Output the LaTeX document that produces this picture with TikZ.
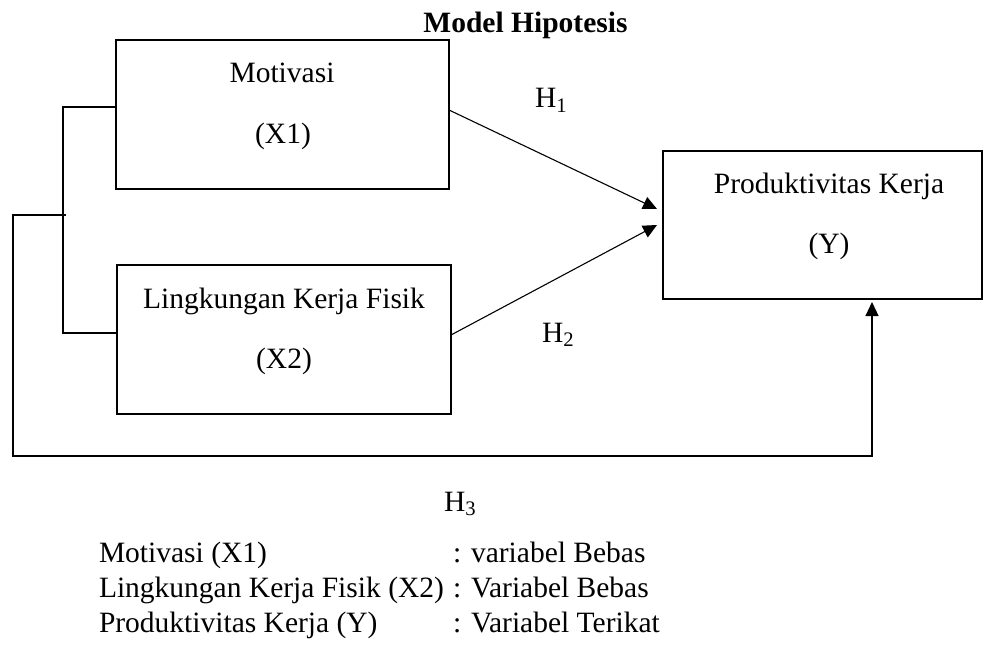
\documentclass[tikz,border=0pt]{standalone}
\usepackage{fontspec}
\setmainfont{Liberation Serif}
\usetikzlibrary{arrows.meta}
\begin{document}
\begin{tikzpicture}[x=0.5pt,y=-0.5pt,
  every node/.style={font=\fontsize{14.75}{17}\selectfont, inner sep=0pt, outer sep=0pt},
  boxnode/.style={draw, line width=1.2pt, inner sep=0pt, minimum height=74.5pt},
  txt/.style={anchor=base},
  lbl/.style={anchor=base west},
  conn/.style={line width=0.55pt},
  arr/.style={conn, -{Triangle[length=7pt,width=6.5pt]}}]
\useasboundingbox (0,0) rectangle (984,647);

% title
\node[txt, font=\fontsize{14.75}{17}\selectfont\bfseries] (title) at (525.5,33) {Model Hipotesis};

% boxes
\node[boxnode, minimum width=166.5pt] (x1) at (282.5,114.5) {};
\node[boxnode, minimum width=167pt] (x2) at (284,339.5) {};
\node[boxnode, minimum width=159.5pt, minimum height=74pt] (yb) at (822.5,225) {};

% box texts
\node[txt] (x1a) at (282,83) {Motivasi};
\node[txt] (x1b) at (283,143) {(X1)};
\node[txt] (x2a) at (284,308) {Lingkungan Kerja Fisik};
\node[txt] (x2b) at (284,368) {(X2)};
\node[txt] (ya) at (829,193) {Produktivitas Kerja};
\node[txt] (yy) at (829,253) {(Y)};

% hypothesis labels
\node[lbl] (h1) at (535,108) {H\textsubscript{1}};
\node[lbl] (h2) at (542,342) {H\textsubscript{2}};
\node[lbl] (h3) at (444,511) {H\textsubscript{3}};

% connectors
\draw[arr] ([yshift=2.25pt]x1.east) -- ([xshift=-3pt,yshift=8pt]yb.west);
\draw[arr] ([yshift=2.25pt]x2.east) -- ([xshift=-3pt]yb.west);

\draw[conn] ([yshift=3.75pt]x1.west) -- ++(-26.5pt,0) |- ([yshift=3.25pt]x2.west);
\coordinate (jn) at (66,215);
\coordinate (cl) at (13,215);
\coordinate (cb) at (13,456);
\draw[arr, shorten >=1.5pt] (jn) -- (cl) -- (cb) -| ([xshift=24.75pt]yb.south);

% legend
\node[lbl] (l1) at (99,562) {Motivasi (X1)};
\node[lbl] (l2) at (99,597) {Lingkungan Kerja Fisik (X2)};
\node[lbl] (l3) at (99,632) {Produktivitas Kerja (Y)};
\node[lbl] (r1) at (453,562) {: variabel Bebas};
\node[lbl] (r2) at (453,597) {: Variabel Bebas};
\node[lbl] (r3) at (453,632) {: Variabel Terikat};
\end{tikzpicture}
\end{document}
